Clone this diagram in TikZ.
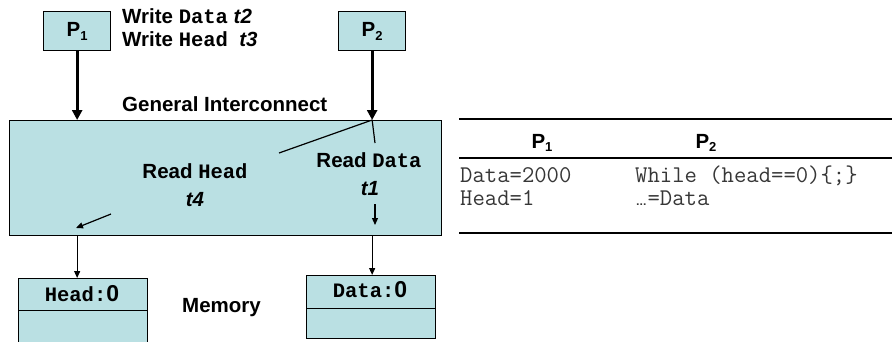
\documentclass[tikz,border=0pt]{standalone}
\usepackage{fontspec}
\setmainfont{Liberation Sans}
\newfontfamily\monob{Liberation Mono}
\usetikzlibrary{arrows.meta}
\definecolor{boxc}{RGB}{186,224,227}
\definecolor{codec}{RGB}{55,55,55}
\tikzset{
  box/.style={draw=black, line width=1.3pt, fill=boxc, inner sep=0pt},
  bigarrow/.style={line width=3pt, -{Triangle[length=10pt,width=10pt]}},
  smallarrow/.style={line width=1.2pt, -{Triangle[length=7pt,width=6pt]}},
  thinline/.style={line width=1.2pt},
  rule/.style={line width=2.6pt},
  lbl/.style={font=\fontsize{20.5}{24}\selectfont\bfseries, inner sep=0pt},
  code/.style={font=\fontsize{24}{26}\selectfont\ttfamily, text=codec, inner sep=0pt},
}
\newcommand{\sub}[1]{\raisebox{-0.35ex}{\fontsize{13}{13}\selectfont #1}}
\newcommand{\cw}[1]{{\fontsize{20.5}{24}\selectfont\monob\bfseries #1}}
\newcommand{\zero}{{\fontsize{23}{24}\selectfont 0}}
\begin{document}
\begin{tikzpicture}[x=1pt,y=-1pt]
\useasboundingbox (0,0) rectangle (892,341);
\clip (0,0) rectangle (892,341);
% processors
\node[box, lbl, minimum width=67pt, minimum height=39pt, anchor=north west] (p1) at (43,11) {P\sub{1}};
\node[box, lbl, minimum width=67pt, minimum height=39pt, anchor=north west] (p2) at (338,11) {P\sub{2}};
% interconnect
\node[box, minimum width=432pt, minimum height=115pt, anchor=north west] (ic) at (9,120) {};
% memory boxes
\node[box, minimum width=129pt, minimum height=32pt, anchor=north west] (hm) at (18,278) {};
\node[box, minimum width=129pt, minimum height=40pt, anchor=north west] (hm2) at (18,310) {};
\node[box, minimum width=129pt, minimum height=33pt, anchor=north west] (dm) at (306,275) {};
\node[box, minimum width=129pt, minimum height=30pt, anchor=north west] (dm2) at (306,308) {};
\node[lbl, anchor=base] (hl) at (82,301) {\cw{Head:}\zero};
\node[lbl, anchor=base] (dl) at (370,297) {\cw{Data:}\zero};
% texts
\node[lbl, anchor=base west] (w1) at (122,23) {Write \cw{Data} \textit{t2}};
\node[lbl, anchor=base west] (w2) at (122,46) {Write \cw{Head} \ \textit{t3}};
\node[lbl, anchor=base west] (gi) at (122,111) {General Interconnect};
\node[lbl, anchor=base] (rd) at (369,167) {Read \cw{Data}};
\node[lbl, anchor=base] (t1) at (370,195) {\textit{t1}};
\node[lbl, anchor=base] (rh) at (195,178) {Read \cw{Head}};
\node[lbl, anchor=base] (t4) at (195,206) {\textit{t4}};
\node[lbl, anchor=base west] (mem) at (182,312) {Memory};
% connectors
\coordinate (a1) at (p1.south |- ic.north);
\coordinate (a2) at (p2.south |- ic.north);
\draw[bigarrow] (p1.south) -- (a1);
\draw[bigarrow] (p2.south) -- (a2);
\coordinate (rdEnd) at (279,153);
\coordinate (rdShort) at (375,143);
\draw[thinline] (a2) -- (rdEnd);
\draw[thinline] (a2) -- (rdShort);
\coordinate (t1s) at (375,204);
\coordinate (t1e) at (375,225);
\draw[smallarrow] (t1s) -- (t1e);
\coordinate (t4s) at (111,214);
\coordinate (t4e) at (76,228);
\draw[smallarrow] (t4s) -- (t4e);
\coordinate (hb) at (a1 |- ic.south);
\coordinate (db) at (a2 |- ic.south);
\draw[smallarrow] (hb) -- (hb |- hm.north);
\draw[smallarrow] (db) -- (db |- dm.north);
% table
\coordinate (r1a) at (459,119); \coordinate (r1b) at (892,119);
\coordinate (r2a) at (459,158); \coordinate (r2b) at (892,158);
\coordinate (r3a) at (459,233); \coordinate (r3b) at (892,233);
\draw[rule] (r1a) -- (r1b);
\draw[rule] (r2a) -- (r2b);
\draw[rule] (r3a) -- (r3b);
\node[lbl, anchor=base] (h1) at (542,148) {P\sub{1}};
\node[lbl, anchor=base] (h2) at (706,148) {P\sub{2}};
\node[code, anchor=base west] (c1) at (460,182) {Data=2000};
\node[code, anchor=base west] (c2) at (635,182) {While (head==0)\{;\}};
\node[code, anchor=base west] (c3) at (460,205) {Head=1};
\node[code, anchor=base west] (c4) at (635,205) {{\fontsize{21}{24}\selectfont\sffamily …}=Data};
\end{tikzpicture}
\end{document}
